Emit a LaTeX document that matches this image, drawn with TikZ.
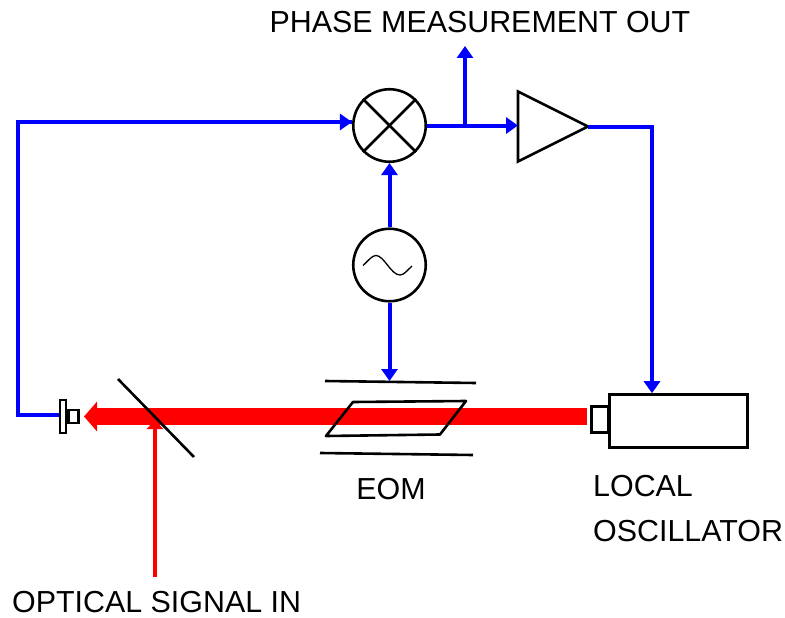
\documentclass[tikz,border=0pt]{standalone}
\usepackage{fontspec}
\setmainfont{Liberation Sans}
\usetikzlibrary{arrows.meta, shapes.geometric}

\begin{document}
\begin{tikzpicture}[
  x=1pt, y=-1pt,
  disc/.style={draw, circle, line width=2.6pt, minimum size=72.5pt, inner sep=0pt},
  amp/.style={draw, isosceles triangle, isosceles triangle stretches, line width=2.6pt, minimum width=70pt, minimum height=70pt, inner sep=0pt, outer sep=0pt},
  box/.style={draw, rectangle, line width=2.6pt, inner sep=0pt},
  line/.style={line width=2.6pt},
  wire/.style={draw=blue, line width=4pt},
  arrow/.style={wire, -{Triangle[length=12pt, width=16pt]}},
  beam/.style={draw=red, line width=17pt, -{Triangle[length=13pt, width=29pt]}},
  signal/.style={draw=red, line width=3.4pt, -{Triangle[length=9pt, width=16pt]}},
  label/.style={font=\fontsize{30.4}{32}\selectfont, inner sep=0pt}
]
  \useasboundingbox (0,0) rectangle (785,618);

  % Nodes
  \node[disc] (mix) at (389.5,125.5) {};
  \node[disc] (osc) at (389.5,265) {};
  \node[amp, anchor=lower side] (gain) at (518,126.5) {};
  \node[box, minimum width=138pt, minimum height=53pt] (lo) at (678.5,421) {};
  \node[box, minimum width=17pt, minimum height=26pt] (port) at (600,419.5) {};
  \node[box, minimum width=6pt, minimum height=33pt] (pd) at (63,416.5) {};
  \node[box, minimum width=10pt, minimum height=13pt, anchor=west] (pdtip) at (pd.east) {};

  \node[label] (out) at (480,22) {PHASE MEASUREMENT OUT};
  \node[label] (eom) at (391,489) {EOM};
  \node[label, anchor=west] (local) at (593,486) {LOCAL};
  \node[label, anchor=west] (osclabel) at (593,531) {OSCILLATOR};
  \node[label, anchor=west] (in) at (12,602) {OPTICAL SIGNAL IN};

  \coordinate (topleft) at (18,122);
  \coordinate (botleft) at (18,415);
  \coordinate (tap) at (465,125.5);
  \coordinate (tapend) at (465,46);
  \coordinate (plate) at (389.5,381);
  \coordinate (beamstart) at (587,416.5);
  \coordinate (beamend) at (84,416.5);
  \coordinate (signalstart) at (155,577);
  \coordinate (signalend) at (155,420);

  % Beam
  \draw[beam] (beamstart) -- (beamend);
  \draw[signal] (signalstart) -- (signalend);

  % Mixer and oscillator
  \draw[line] (mix.135) -- (mix.-45);
  \draw[line] (mix.-135) -- (mix.45);
  \draw[line width=1.3pt] (363,265.5) .. controls (369,260) and (372,255.5) .. (376,255.5)
    .. controls (384,255.5) and (391,275) .. (400,275) .. controls (404,275) and (407,270.5) .. (412,266);

  % EOM
  \draw[line] (325,381) -- (476,383);
  \draw[line] (320,453) -- (473,455);
  \draw[line, line join=round] (353,402) -- (466,401) -- (440,434.5) -- (326,436) -- cycle;

  % Mirror
  \draw[line] (118,379) -- (194,457);

  % Edges
  \draw[wire, line join=miter] (pd.west |- botleft) -- (botleft) -- (topleft) -- (topleft -| mix.west);
  \draw[arrow] (topleft) -- (topleft -| mix.west);
  \draw[arrow] (mix.east) -- (tap -| gain.lower side);
  \draw[arrow] (tap) -- (tapend);
  \draw[arrow] (osc.north) -- (mix.south);
  \draw[arrow] (osc.south) -- (plate);
  \draw[arrow] (gain.apex) -| (lo.north -| 652,0);

\end{tikzpicture}
\end{document}
